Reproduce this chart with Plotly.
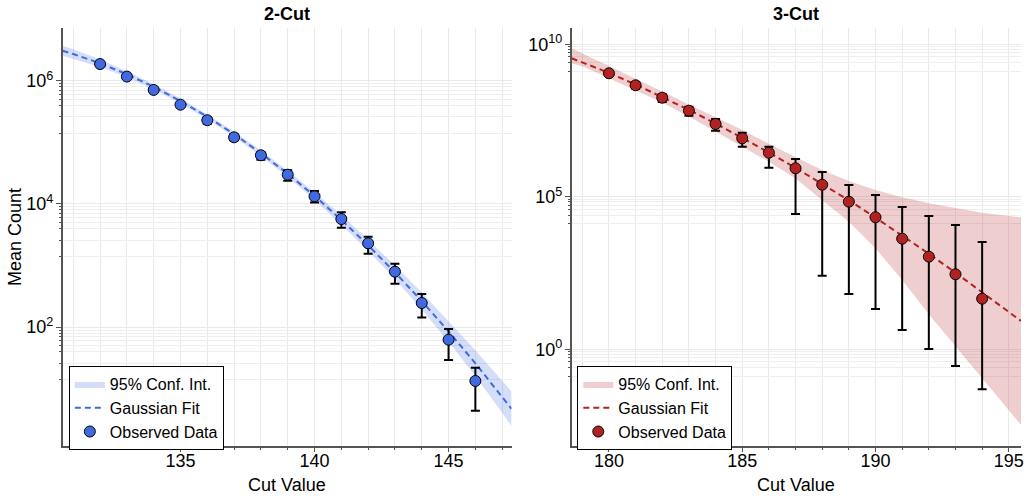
import plotly.graph_objects as go

# ---------------- 2-Cut data ----------------
cut2_x = [132, 133, 134, 135, 136, 137, 138, 139, 140, 141, 142, 143, 144, 145, 146]
cut2_mean = [1.87e6, 1.17e6, 7.10e5, 4.09e5, 2.29e5, 1.21e5, 6.18e4, 2.99e4, 1.33e4,
             5.70e3, 2.30e3, 796, 247, 62.7, 13.4]
cut2_upper = [1.89e6, 1.19e6, 7.25e5, 4.20e5, 2.55e5, 1.37e5, 6.98e4, 3.52e4, 1.62e4,
              7.33e3, 2.94e3, 1.07e3, 346, 93.5, 22.0]
cut2_lower = [1.85e6, 1.15e6, 6.95e5, 3.98e5, 2.01e5, 1.07e5, 5.24e4, 2.39e4, 1.06e4,
              4.12e3, 1.56e3, 508, 143, 29.4, 4.42]
cut2_fit_x = [130.6, 131, 132, 133, 134, 135, 136, 137, 138, 139, 140, 141, 142, 143,
              144, 145, 146, 147, 147.35]
cut2_fit = [3.08e6, 2.72e6, 1.92e6, 1.28e6, 7.98e5, 4.70e5, 2.60e5, 1.36e5, 6.68e4,
            3.09e4, 1.35e4, 5.52e3, 2.13e3, 776, 265, 85.5, 25.9, 7.43, 4.72]
cut2_ci_hi = [3.71e6, 3.24e6, 2.21e6, 1.43e6, 8.85e5, 5.15e5, 2.85e5, 1.49e5, 7.41e4,
              3.47e4, 1.55e4, 6.56e3, 2.62e3, 1.00e3, 366, 126, 42.1, 13.5, 8.99]
cut2_ci_lo = [2.56e6, 2.29e6, 1.67e6, 1.14e6, 7.19e5, 4.29e5, 2.37e5, 1.24e5, 6.03e4,
              2.75e4, 1.17e4, 4.65e3, 1.73e3, 603, 192, 57.8, 16.0, 4.08, 2.48]

# ---------------- 3-Cut data ----------------
cut3_x = [180, 181, 182, 183, 184, 185, 186, 187, 188, 189, 190, 191, 192, 193, 194]
cut3_mean = [1.12e9, 4.53e8, 1.77e8, 6.65e7, 2.44e7, 8.28e6, 2.79e6, 8.59e5, 2.49e5,
             6.90e4, 2.13e4, 4.23e3, 1.09e3, 288, 45.6]
cut3_upper = [1.26e9, 5.68e8, 2.29e8, 9.00e7, 3.56e7, 1.26e7, 4.40e6, 1.74e6, 6.50e5,
              2.44e5, 1.15e5, 4.63e4, 2.34e4, 1.19e4, 3.31e3]
cut3_lower = [1.00e9, 3.50e8, 1.28e8, 4.56e7, 1.47e7, 4.40e6, 8.99e5, 2.73e4, 259,
              65.0, 20.9, 4.30, 1.02, 0.283, 0.0489]
cut3_fit_x = [178.6, 179, 180, 181, 182, 183, 184, 185, 186, 187, 188, 189, 190, 191,
              192, 193, 194, 195, 195.46]
cut3_fit = [3.47e9, 2.57e9, 1.16e9, 4.79e8, 1.88e8, 7.06e7, 2.53e7, 8.69e6, 2.84e6,
            8.91e5, 2.67e5, 7.64e4, 2.08e4, 5.46e3, 1.36e3, 325, 74.1, 16.1, 8.47]
cut3_ci_hi = [7.41e9, 5.01e9, 1.95e9, 7.41e8, 2.82e8, 1.07e8, 4.07e7, 1.55e7, 5.50e6,
              1.97e6, 7.57e5, 3.30e5, 1.67e5, 9.64e4, 6.12e4, 4.20e4, 3.01e4, 2.34e4, 2.13e4]
cut3_ci_lo = [2.40e9, 1.91e9, 7.67e8, 3.16e8, 1.23e8, 4.27e7, 1.38e7, 4.37e6, 1.41e6,
              3.98e5, 7.94e4, 1.51e4, 2.04e3, 186, 14.1, 1.26, 0.112, 0.01, 0.0033]

# ---------------- tick labels ----------------
cut2_xticks = [135, 140, 145]
cut3_xticks = [180, 185, 190, 195]
cut2_yticks = [1e2, 1e4, 1e6]
cut2_yticktext = ["10<sup>2</sup>", "10<sup>4</sup>", "10<sup>6</sup>"]
cut3_yticks = [1e0, 1e5, 1e10]
cut3_yticktext = ["10<sup>0</sup>", "10<sup>5</sup>", "10<sup>10</sup>"]

BLUE = "#4169E1"
RED = "#B22222"
FONT = "Liberation Sans, Arial, Helvetica, sans-serif"
AX = "#555555"
GRID = "#e9e9e9"
MGRID = "#eeeeee"

# minor log gridlines (clustered just below each labelled decade, as in the reference)
cut2_minor = [m * f for m in cut2_yticks for f in (0.9, 0.8, 0.7, 0.6, 0.5, 0.4, 0.26, 0.14)]
cut3_minor = [m * f for m in cut3_yticks for f in (0.84, 0.69, 0.53, 0.39, 0.25, 0.13)]

fig = go.Figure()


def add_panel(fx, fit, lo, hi, x, mean, upper, lower, color, band, xa, ya, leg):
    fig.add_trace(go.Scatter(
        x=fx + fx[::-1], y=hi + lo[::-1], fill="toself", fillcolor=band,
        line=dict(width=0), mode="lines", name="95% Conf. Int.",
        xaxis=xa, yaxis=ya, legend=leg, hoverinfo="skip"))
    fig.add_trace(go.Scatter(
        x=fx, y=fit, mode="lines", name="Gaussian Fit",
        line=dict(color=color, width=2, dash="6px,4px"),
        xaxis=xa, yaxis=ya, legend=leg))
    fig.add_trace(go.Scatter(
        x=x, y=mean, mode="markers", name="Observed Data",
        marker=dict(size=11, color=color, line=dict(color="black", width=1)),
        error_y=dict(type="data", symmetric=False,
                     array=[u - m for u, m in zip(upper, mean)],
                     arrayminus=[m - l for m, l in zip(mean, lower)],
                     color="black", thickness=2, width=4.5),
        xaxis=xa, yaxis=ya, legend=leg))


add_panel(cut2_fit_x, cut2_fit, cut2_ci_lo, cut2_ci_hi, cut2_x, cut2_mean,
          cut2_upper, cut2_lower, BLUE, "rgba(65,105,225,0.22)", "x", "y", "legend")
add_panel(cut3_fit_x, cut3_fit, cut3_ci_lo, cut3_ci_hi, cut3_x, cut3_mean,
          cut3_upper, cut3_lower, RED, "rgba(178,34,34,0.22)", "x2", "y2", "legend2")

xcommon = dict(
    ticks="outside", ticklen=5, tickwidth=1, tickcolor=AX, ticklabelstandoff=-7,
    showline=True, linecolor=AX, linewidth=1.5, showgrid=True, gridcolor=GRID,
    zeroline=False, tickfont=dict(size=18, color="black", family=FONT),
    minor=dict(dtick=1, tick0=0, ticks="outside", ticklen=3, tickcolor=AX,
               showgrid=True, gridcolor=GRID))
ycommon = dict(
    type="log", ticks="outside", ticklen=5, tickwidth=1, tickcolor=AX,
    ticklabelstandoff=-1,
    showline=True, linecolor=AX, linewidth=1.5, showgrid=True, gridcolor=GRID,
    zeroline=False, tickfont=dict(size=18, color="black", family=FONT))
yminor = dict(
    type="log", ticks="outside", ticklen=3, tickwidth=1, tickcolor=AX,
    showticklabels=False, showline=False, showgrid=True, gridcolor=MGRID,
    zeroline=False, side="left")

legend_style = dict(xanchor="left", yanchor="top", bordercolor="black", borderwidth=1,
                    bgcolor="white", font=dict(size=16, family=FONT),
                    tracegroupgap=0, itemwidth=30)

ydom = [0.1068, 0.9439]
y1_range = [0.076, 6.857]
y2_range = [-3.16, 10.534]
fig.update_layout(
    width=1035, height=499, margin=dict(l=0, r=0, t=0, b=0),
    plot_bgcolor="white", paper_bgcolor="white",
    font=dict(family=FONT, color="black", size=18),
    xaxis=dict(domain=[0.0606, 0.4957], anchor="y", range=[130.6, 147.35],
               tickvals=cut2_xticks, **xcommon),
    xaxis2=dict(domain=[0.5539, 0.9894], anchor="y2", range=[178.6, 195.46],
                tickvals=cut3_xticks, **xcommon),
    yaxis=dict(domain=ydom, anchor="x", range=y1_range,
               tickvals=cut2_yticks, ticktext=cut2_yticktext, **ycommon),
    yaxis2=dict(domain=ydom, anchor="x2", range=y2_range,
                tickvals=cut3_yticks, ticktext=cut3_yticktext, **ycommon),
    yaxis3=dict(overlaying="y", anchor="x", range=y1_range, tickvals=cut2_minor, **yminor),
    yaxis4=dict(overlaying="y2", anchor="x2", range=y2_range, tickvals=cut3_minor, **yminor),
    legend=dict(x=0.0667, y=0.2665, **legend_style),
    legend2=dict(x=0.5594, y=0.2665, **legend_style),
    showlegend=True,
    annotations=[
        dict(text="<b>2-Cut</b>", x=0.2782, y=1 - 14 / 499, xref="paper", yref="paper",
             showarrow=False, font=dict(size=18), xanchor="center", yanchor="middle"),
        dict(text="<b>3-Cut</b>", x=0.7717, y=1 - 14 / 499, xref="paper", yref="paper",
             showarrow=False, font=dict(size=18), xanchor="center", yanchor="middle"),
        dict(text="Cut Value", x=0.2782, y=1 - 485 / 499, xref="paper", yref="paper",
             showarrow=False, font=dict(size=18), xanchor="center", yanchor="middle"),
        dict(text="Cut Value", x=0.7717, y=1 - 485 / 499, xref="paper", yref="paper",
             showarrow=False, font=dict(size=18), xanchor="center", yanchor="middle"),
        dict(text="Mean Count", x=15 / 1035, y=1 - 237 / 499, xref="paper", yref="paper",
             showarrow=False, font=dict(size=18), textangle=-90,
             xanchor="center", yanchor="middle"),
    ],
)

# invisible anchor traces so the overlay (minor-grid) axes are drawn
fig.add_trace(go.Scatter(x=[cut2_x[0]], y=[cut2_mean[0]], xaxis="x", yaxis="y3",
                         mode="markers", marker=dict(opacity=0), showlegend=False,
                         hoverinfo="skip"))
fig.add_trace(go.Scatter(x=[cut3_x[0]], y=[cut3_mean[0]], xaxis="x2", yaxis="y4",
                         mode="markers", marker=dict(opacity=0), showlegend=False,
                         hoverinfo="skip"))
fig.data = fig.data[-2:] + fig.data[:-2]

fig.write_html("out.html")
